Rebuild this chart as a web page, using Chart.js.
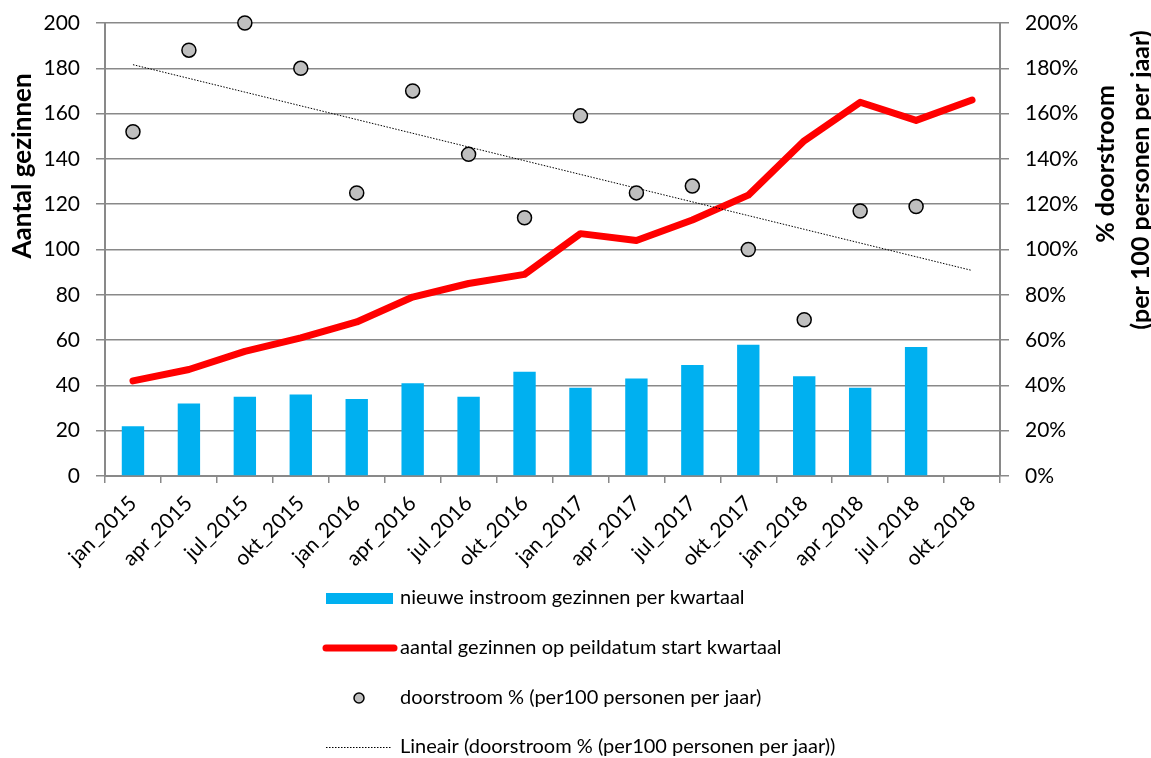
<!DOCTYPE html>
<html lang="nl">
<head>
    <meta charset="UTF-8">
    <title>Doorstroom gezinnen</title>
    <script src="https://cdn.jsdelivr.net/npm/chart.js"></script>
    <style>
        body {
            margin: 0;
            padding: 0;
            background: #fff;
        }
        .chart-box {
            width: 1151px;
            height: 758px;
            position: relative;
        }
    </style>
</head>
<body>
    <div class="chart-box">
        <canvas id="myChart" width="1151" height="758"></canvas>
    </div>

    <script>
        // data
        const quarters = ['jan_2015', 'apr_2015', 'jul_2015', 'okt_2015', 'jan_2016', 'apr_2016', 'jul_2016', 'okt_2016',
                          'jan_2017', 'apr_2017', 'jul_2017', 'okt_2017', 'jan_2018', 'apr_2018', 'jul_2018', 'okt_2018'];
        const newInflow = [22, 32, 35, 36, 34, 41, 35, 46, 39, 43, 49, 58, 44, 39, 57, null];
        const familyCount = [42, 47, 55, 61, 68, 79, 85, 89, 107, 104, 113, 124, 148, 165, 157, 166];
        const throughflowPct = [152, 188, 200, 180, 125, 170, 142, 114, 159, 125, 128, 100, 69, 117, 119, null];
        const leftTicks = [0, 20, 40, 60, 80, 100, 120, 140, 160, 180, 200];
        const rightTicks = ['0%', '20%', '40%', '60%', '80%', '100%', '120%', '140%', '160%', '180%', '200%'];

        const legendLabels = [
            'nieuwe instroom gezinnen per kwartaal',
            'aantal gezinnen op peildatum start kwartaal',
            'doorstroom % (per100 personen per jaar)',
            'Lineair (doorstroom % (per100 personen per jaar))'
        ];

        // linear trend line, like Excel does it (least squares over the known points)
        function trendLine(values) {
            let n = 0, sx = 0, sy = 0, sxx = 0, sxy = 0;
            values.forEach((v, i) => {
                if (v === null) return;
                n++; sx += i; sy += v; sxx += i * i; sxy += i * v;
            });
            const slope = (n * sxy - sx * sy) / (n * sxx - sx * sx);
            const icpt = (sy - slope * sx) / n;
            return values.map((v, i) => icpt + slope * i);
        }

        const FONT = 'Lato, "Open Sans", sans-serif';
        const gridColor = '#898989';

        // axis titles (both read bottom to top) and the legend under the chart
        const extras = {
            id: 'extras',
            afterDraw(chart) {
                const ctx = chart.ctx;
                ctx.save();
                ctx.fillStyle = '#000';
                ctx.textAlign = 'center';
                ctx.textBaseline = 'middle';

                ctx.font = 'bold 26px ' + FONT;
                ctx.save();
                ctx.translate(23, 166);
                ctx.rotate(-Math.PI / 2);
                ctx.fillText('Aantal gezinnen', 0, 0);
                ctx.restore();

                ctx.font = 'bold 25px ' + FONT;
                ctx.save();
                ctx.translate(1106, 164);
                ctx.rotate(-Math.PI / 2);
                ctx.fillText('% doorstroom', 0, 0);
                ctx.restore();
                ctx.save();
                ctx.translate(1141, 180);
                ctx.rotate(-Math.PI / 2);
                ctx.fillText('(per 100 personen per jaar)', 0, 0);
                ctx.restore();

                // legend
                ctx.font = '20px ' + FONT;
                ctx.textAlign = 'left';
                const rows = [598, 648, 698, 747];

                ctx.fillStyle = '#00B0F0';
                ctx.fillRect(326, rows[0] - 5, 67, 11);

                ctx.strokeStyle = '#FF0000';
                ctx.lineWidth = 7;
                ctx.lineCap = 'round';
                ctx.beginPath();
                ctx.moveTo(326, rows[1]);
                ctx.lineTo(394, rows[1]);
                ctx.stroke();

                ctx.fillStyle = '#BFBFBF';
                ctx.strokeStyle = '#000';
                ctx.lineWidth = 1.5;
                ctx.beginPath();
                ctx.arc(359, rows[2], 5, 0, Math.PI * 2);
                ctx.fill();
                ctx.stroke();

                ctx.lineWidth = 1;
                ctx.lineCap = 'butt';
                ctx.setLineDash([1.5, 1.5]);
                ctx.beginPath();
                ctx.moveTo(326, rows[3] + 0.5);
                ctx.lineTo(392, rows[3] + 0.5);
                ctx.stroke();
                ctx.setLineDash([]);

                ctx.fillStyle = '#000';
                legendLabels.forEach((txt, i) => ctx.fillText(txt, 400, rows[i]));
                ctx.restore();
            }
        };

        // fix the plot box so it sits where the original has it
        function fitY(width) {
            return s => {
                s.width = width;
                s.paddingTop = 0;
                s.paddingBottom = 0;
            };
        }

        const ctx = document.getElementById('myChart').getContext('2d');
        const myChart = new Chart(ctx, {
            type: 'bar',
            data: {
                labels: quarters,
                datasets: [
                    {
                        type: 'line',
                        label: legendLabels[2],
                        data: throughflowPct,
                        yAxisID: 'y1',
                        showLine: false,
                        clip: false,
                        pointRadius: 7,
                        pointBackgroundColor: '#BFBFBF',
                        pointBorderColor: '#000',
                        pointBorderWidth: 1.5,
                        order: 0
                    },
                    {
                        type: 'line',
                        label: legendLabels[3],
                        data: trendLine(throughflowPct),
                        yAxisID: 'y1',
                        borderColor: '#000',
                        borderWidth: 1,
                        borderDash: [1.5, 1.5],
                        pointRadius: 0,
                        order: 1
                    },
                    {
                        type: 'line',
                        label: legendLabels[1],
                        data: familyCount,
                        yAxisID: 'y',
                        borderColor: '#FF0000',
                        borderWidth: 7,
                        borderCapStyle: 'round',
                        borderJoinStyle: 'round',
                        tension: 0,
                        pointRadius: 0,
                        order: 2
                    },
                    {
                        label: legendLabels[0],
                        data: newInflow,
                        yAxisID: 'y',
                        backgroundColor: '#00B0F0',
                        categoryPercentage: 1,
                        barPercentage: 0.4,
                        order: 3
                    }
                ]
            },
            options: {
                responsive: false,
                animation: false,
                layout: { padding: { top: 23, left: 0, right: 0, bottom: 0 } },
                plugins: {
                    legend: { display: false },
                    tooltip: { enabled: false }
                },
                scales: {
                    x: {
                        offset: true,
                        grid: {
                            offset: true,
                            drawOnChartArea: false,
                            color: gridColor,
                            lineWidth: 1.5,
                            tickLength: 7
                        },
                        border: { color: gridColor, width: 2 },
                        ticks: {
                            color: '#000',
                            font: { family: FONT, size: 21 },
                            minRotation: 45,
                            maxRotation: 45,
                            padding: 8,
                            autoSkip: false
                        },
                        afterFit: s => { s.height = 282; }
                    },
                    y: {
                        position: 'left',
                        min: 0,
                        max: 200,
                        afterBuildTicks: s => { s.ticks = leftTicks.map(v => ({ value: v })); },
                        grid: { color: gridColor, lineWidth: 1.5, tickLength: 9 },
                        border: { color: gridColor, width: 2 },
                        ticks: {
                            color: '#000',
                            font: { family: FONT, size: 21 },
                            padding: 16
                        },
                        afterFit: fitY(105)
                    },
                    y1: {
                        position: 'right',
                        min: 0,
                        max: 200,
                        afterBuildTicks: s => { s.ticks = leftTicks.map(v => ({ value: v })); },
                        grid: { drawOnChartArea: false, color: gridColor, lineWidth: 1.5, tickLength: 9 },
                        border: { color: gridColor, width: 2 },
                        ticks: {
                            color: '#000',
                            font: { family: FONT, size: 21 },
                            padding: 16,
                            callback: (v, i) => rightTicks[i]
                        },
                        afterFit: fitY(151)
                    }
                }
            },
            plugins: [extras]
        });
    </script>
</body>
</html>
